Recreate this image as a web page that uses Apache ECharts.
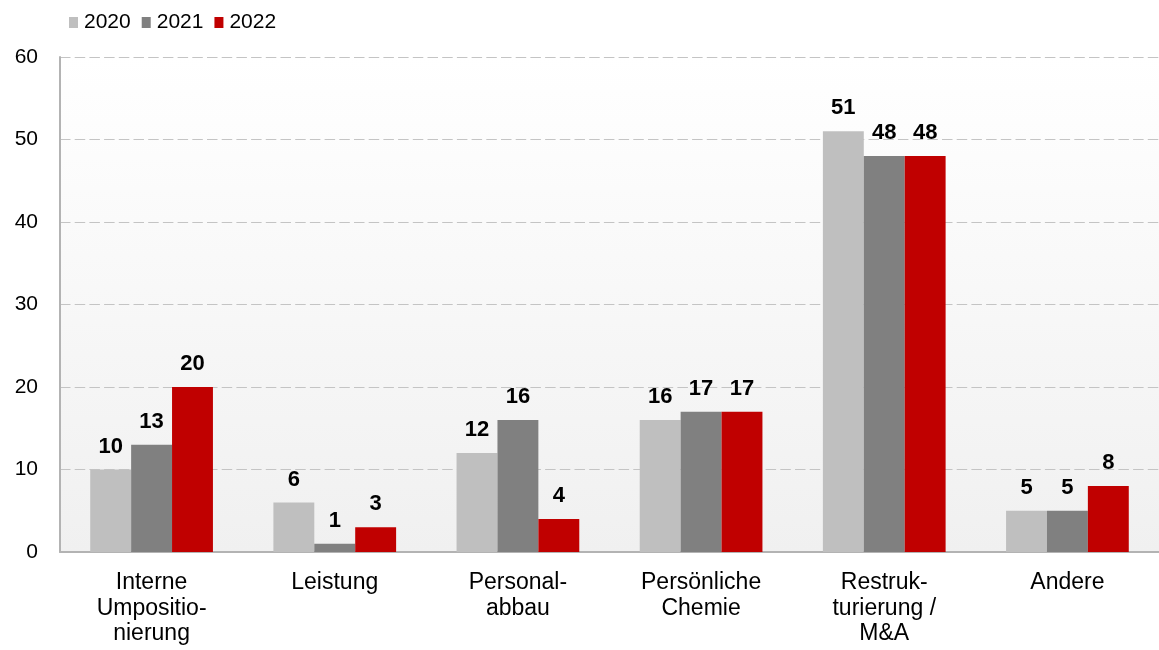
<!DOCTYPE html>
<html>
<head>
<meta charset="utf-8">
<script src="https://cdn.jsdelivr.net/npm/echarts@6/dist/echarts.min.js"></script>
<style>
  html, body { margin: 0; padding: 0; background: #fff; }
  #chart { width: 1159px; height: 650px; }
</style>
</head>
<body>
<div id="chart"></div>
<script>
const categories = [
  "Interne\nUmpositio-\nnierung",
  "Leistung",
  "Personal-\nabbau",
  "Persönliche\nChemie",
  "Restruk-\nturierung /\nM&A",
  "Andere"
];
const years = ["2020", "2021", "2022"];
const values2020 = [10, 6, 12, 16, 51, 5];
const values2021 = [13, 1, 16, 17, 48, 5];
const values2022 = [20, 3, 4, 17, 48, 8];
const colors = ["#bfbfbf", "#808080", "#c00000"];

const chart = echarts.init(document.getElementById("chart"));

const mkSeries = (name, data, color) => ({
  name: name,
  type: "bar",
  data: data,
  barGap: "0%",
  barCategoryGap: "33%",
  itemStyle: { color: color },
  label: {
    show: true,
    position: "top",
    distance: 12,
    color: "#000",
    fontWeight: "bold",
    fontSize: 22,
    fontFamily: "Liberation Sans, Arial, sans-serif"
  }
});

chart.setOption({
  animation: false,
  textStyle: { fontFamily: "Liberation Sans, Arial, sans-serif" },
  legend: {
    left: 64,
    top: 7,
    itemWidth: 9,
    itemHeight: 11,
    itemGap: 11,
    icon: "rect",
    textStyle: { fontSize: 21, color: "#000", padding: [0, 0, 0, 1] },
    data: years
  },
  grid: {
    left: 60,
    right: -5,
    top: 57,
    bottom: 98,
    show: true,
    borderWidth: 0,
    backgroundColor: new echarts.graphic.LinearGradient(0, 0, 0, 1, [
      { offset: 0, color: "#ffffff" },
      { offset: 1, color: "#f0f0f0" }
    ])
  },
  xAxis: {
    type: "category",
    data: categories,
    axisTick: { show: false },
    axisLine: { show: true, lineStyle: { color: "#b3b3b3", width: 2 } },
    axisLabel: {
      color: "#000",
      fontSize: 23,
      lineHeight: 25.5,
      margin: 18,
      interval: 0
    }
  },
  yAxis: {
    type: "value",
    min: 0,
    max: 60,
    interval: 10,
    axisLine: { show: true, lineStyle: { color: "#b3b3b3", width: 2 } },
    axisTick: { show: false },
    axisLabel: { color: "#000", fontSize: 21, margin: 22 },
    splitLine: {
      lineStyle: { color: "#c4c4c4", type: [10.5, 4.2], width: 1.2 }
    }
  },
  series: [
    mkSeries(years[0], values2020, colors[0]),
    mkSeries(years[1], values2021, colors[1]),
    mkSeries(years[2], values2022, colors[2])
  ]
});
</script>
</body>
</html>
